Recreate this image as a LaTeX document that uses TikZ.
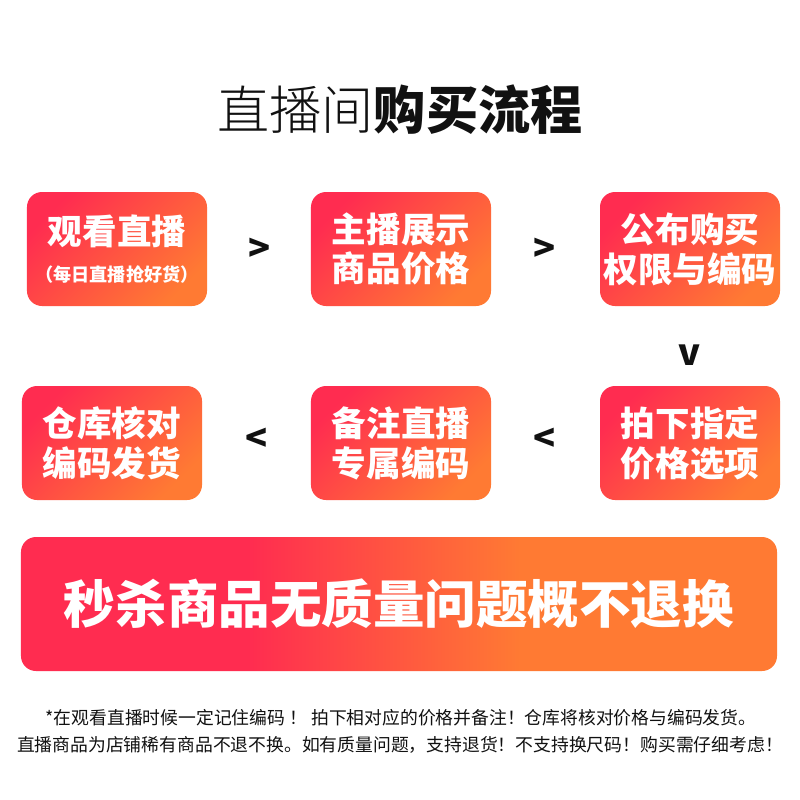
\documentclass[tikz,border=0pt]{standalone}
\usepackage{fontspec}
\newfontfamily\cjk{Noto Sans CJK SC}
\newfontfamily\cjkheavy{Noto Sans CJK SC Black}
\newfontfamily\cjklight{Noto Sans CJK SC Light}
\definecolor{rose}{HTML}{FF2C50}
\definecolor{tangerine}{HTML}{FF7A33}
\definecolor{ink}{HTML}{111111}
\pgfdeclarehorizontalshading{bannershade}{100bp}{color(0bp)=(rose); color(40bp)=(rose); color(58bp)=(tangerine); color(100bp)=(tangerine)}

\begin{document}
\begin{tikzpicture}[x=0.03cm, y=-0.03cm]

% --- Stijlen ---
\tikzset{
    card/.style={rounded corners=0.45cm, minimum width=5.4cm, minimum height=3.42cm,
        inner sep=0pt, text=white, align=center,
        font=\cjkheavy\fontsize{29.5}{34}\selectfont,
        top color=rose, bottom color=tangerine, shading angle=45},
    banner/.style={rounded corners=0.45cm, minimum width=22.68cm, minimum height=4.02cm,
        inner sep=0pt, text=white, shading=bannershade,
        font=\cjkheavy\fontsize{44}{44}\selectfont},
    chevron/.style={text=ink, inner sep=0pt, font=\cjkheavy\fontsize{31}{31}\selectfont},
    note/.style={text=ink, inner sep=0pt, font=\cjk\fontsize{15.2}{15.2}\selectfont}
}

\useasboundingbox[fill=white] (0,0) rectangle (800,800);

% --- Titel ---
\node[text=ink, font=\fontsize{44.5}{44.5}\selectfont] (title) at (400,110)
    {{\cjklight 直播间}{\cjkheavy 购买流程}};

% --- Bovenste rij ---
\node[card] (watch) at (117,249)
    {观看直播\\[-2pt]{\fontsize{15.5}{18}\selectfont （每日直播抢好货）}};
\node[card] (show)  at (401,249) {主播展示\\商品价格};
\node[card] (pub)   at (690,249) {公布购买\\权限与编码};

\node[chevron] (c1) at (260,250) {>};
\node[chevron] (c2) at (545,250) {>};
\node[chevron] (c3) at (690,355) {v};

% --- Onderste rij ---
\node[card] (ship) at (112,443) {仓库核对\\编码发货};
\node[card] (mark) at (401,443) {备注直播\\专属编码};
\node[card] (buy)  at (690,443) {拍下指定\\价格选项};

\node[chevron] (c4) at (257,440) {<};
\node[chevron] (c5) at (545,440) {<};

% --- Banner ---
\node[banner] (rule) at (399,604) {秒杀商品无质量问题概不退换};

% --- Opmerkingen ---
\node[note] (note1) at (401,718) {*在观看直播时候一定记住编码 ！ 拍下相对应的价格并备注！仓库将核对价格与编码发货。};
\node[note] (note2) at (400,745) {直播商品为店铺稀有商品不退不换。如有质量问题，支持退货！不支持换尺码！购买需仔细考虑！};

\end{tikzpicture}
\end{document}
